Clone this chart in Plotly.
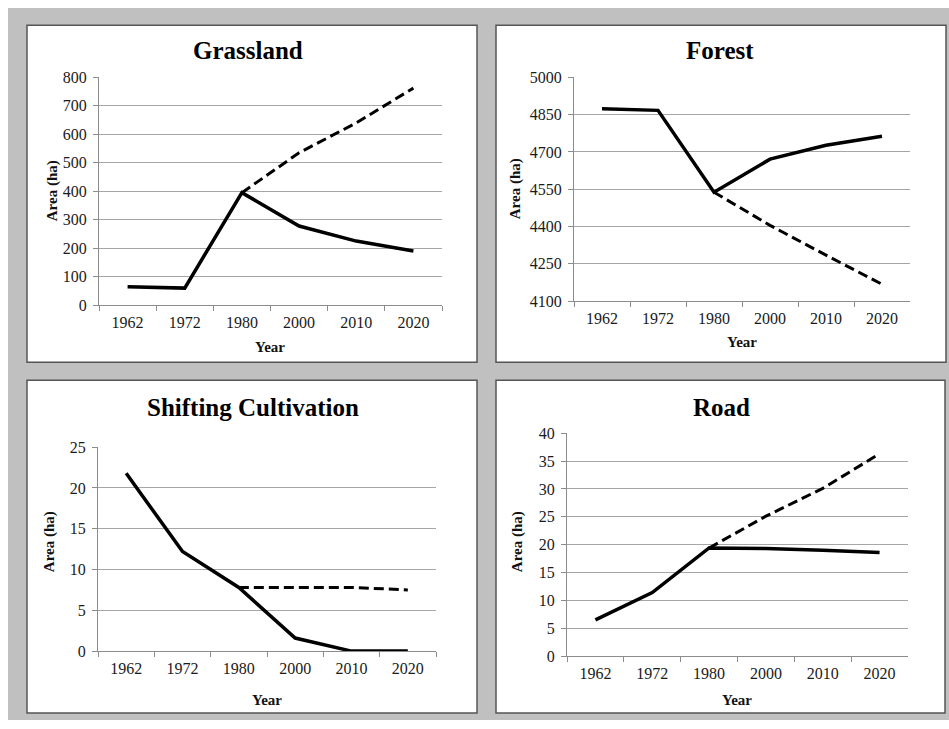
import plotly.graph_objects as go

W, H = 949, 729

years = ["1962", "1972", "1980", "2000", "2010", "2020"]

grass_actual = [65, 60, 395, 278, 225, 190]
grass_trend = [None, None, 395, 535, 640, 762]

forest_actual = [4874, 4867, 4538, 4671, 4727, 4763]
forest_trend = [None, None, 4538, 4405, 4285, 4168]

shift_actual = [21.8, 12.2, 7.8, 1.6, 0, 0]
shift_trend = [None, None, 7.8, 7.8, 7.8, 7.5]

road_actual = [6.5, 11.4, 19.4, 19.3, 19.0, 18.6]
road_trend = [None, None, 19.4, 25.1, 30.1, 36.3]

titles = ["Grassland", "Forest", "Shifting Cultivation", "Road"]
y_ranges = [[0, 800], [4100, 5000], [0, 25], [0, 40]]
y_dticks = [100, 150, 5, 5]

# the photographed page is placed with a small vertical inset; compensate
A_OFF, S_Y = 7.7, 0.977

def px(x):
    return x / W

def py(y):
    yf = (y - A_OFF) / S_Y
    return 1 - yf / H

panels = [
    (27, 25, 477, 362),
    (496, 25, 946, 362),
    (27, 380, 477, 713),
    (496, 380, 945, 713),
]
plots = [
    (99, 77, 442, 305),
    (574, 77, 910, 301),
    (98, 447, 436, 651),
    (567, 433, 908, 656),
]
title_pos = [(248, 50), (720, 50), (253, 407), (721, 407)]
ytitle_pos = [(52, 191), (515, 189), (49, 542), (517, 542)]
xtitle_pos = [(270, 347), (742, 342), (267, 700), (737, 700)]

series = [
    (grass_actual, grass_trend),
    (forest_actual, forest_trend),
    (shift_actual, shift_trend),
    (road_actual, road_trend),
]

fig = go.Figure()
serif = "Liberation Serif"

shapes = [dict(type="rect", xref="paper", yref="paper", x0=px(8), x1=1, y0=0, y1=1,
               fillcolor="#c0c0c0", line=dict(width=0), layer="below")]
annotations = []

for i in range(4):
    xa = "x" if i == 0 else f"x{i+1}"
    ya = "y" if i == 0 else f"y{i+1}"
    actual, trend = series[i]
    fig.add_trace(go.Scatter(x=years, y=trend, mode="lines", xaxis=xa, yaxis=ya,
                             line=dict(color="black", width=3, dash="10px,5px"),
                             showlegend=False, connectgaps=False))
    fig.add_trace(go.Scatter(x=years, y=actual, mode="lines", xaxis=xa, yaxis=ya,
                             line=dict(color="black", width=3.5),
                             showlegend=False))
    x0, y0, x1, y1 = plots[i]
    xkey = "xaxis" if i == 0 else f"xaxis{i+1}"
    ykey = "yaxis" if i == 0 else f"yaxis{i+1}"
    fig.layout[xkey] = dict(domain=[px(x0), px(x1)], anchor=ya, type="category",
                            range=[-0.5, 5.5], tickson="boundaries", ticks="outside",
                            ticklen=5, tickcolor="#8c8c8c", showline=True,
                            linecolor="#8c8c8c", linewidth=1, showgrid=False,
                            ticklabelstandoff=3,
                            tickfont=dict(family=serif, size=16, color="#1a1a1a"),
                            fixedrange=True)
    fig.layout[ykey] = dict(domain=[py(y1), py(y0)], anchor=xa, range=y_ranges[i],
                            dtick=y_dticks[i], tick0=y_ranges[i][0], ticks="outside",
                            ticklen=5, tickcolor="#8c8c8c", showline=True,
                            linecolor="#8c8c8c", linewidth=1, showgrid=True,
                            gridcolor="#a6a6a6", gridwidth=1, zeroline=False,
                            ticklabelstandoff=3,
                            tickfont=dict(family=serif, size=16, color="#1a1a1a"),
                            fixedrange=True)
    X0, Y0, X1, Y1 = panels[i]
    shapes.append(dict(type="rect", xref="paper", yref="paper", x0=px(X0), x1=px(X1),
                       y0=py(Y1), y1=py(Y0), fillcolor="white",
                       line=dict(color="#555555", width=1.5), layer="below"))
    tx, ty = title_pos[i]
    annotations.append(dict(text=f"<b>{titles[i]}</b>", x=px(tx), y=py(ty), xref="paper",
                            yref="paper", showarrow=False, xanchor="center", yanchor="middle",
                            font=dict(family=serif, size=25, color="black")))
    ax_, ay_ = ytitle_pos[i]
    annotations.append(dict(text="<b>Area (ha)</b>", x=px(ax_), y=py(ay_), xref="paper",
                            yref="paper", showarrow=False, xanchor="center", yanchor="middle",
                            textangle=-90, font=dict(family=serif, size=15, color="#111")))
    bx, by = xtitle_pos[i]
    annotations.append(dict(text="<b>Year</b>", x=px(bx), y=py(by), xref="paper",
                            yref="paper", showarrow=False, xanchor="center", yanchor="middle",
                            font=dict(family=serif, size=15, color="#111")))

fig.update_layout(width=W, height=H, margin=dict(l=0, r=0, t=0, b=0),
                  paper_bgcolor="white", plot_bgcolor="rgba(0,0,0,0)",
                  shapes=shapes, annotations=annotations, showlegend=False)

post = ("document.body.style.margin='0';document.body.style.padding='0';"
        "document.body.style.overflow='hidden';")

fig.write_html("out.html", config={"displayModeBar": False}, post_script=post)
